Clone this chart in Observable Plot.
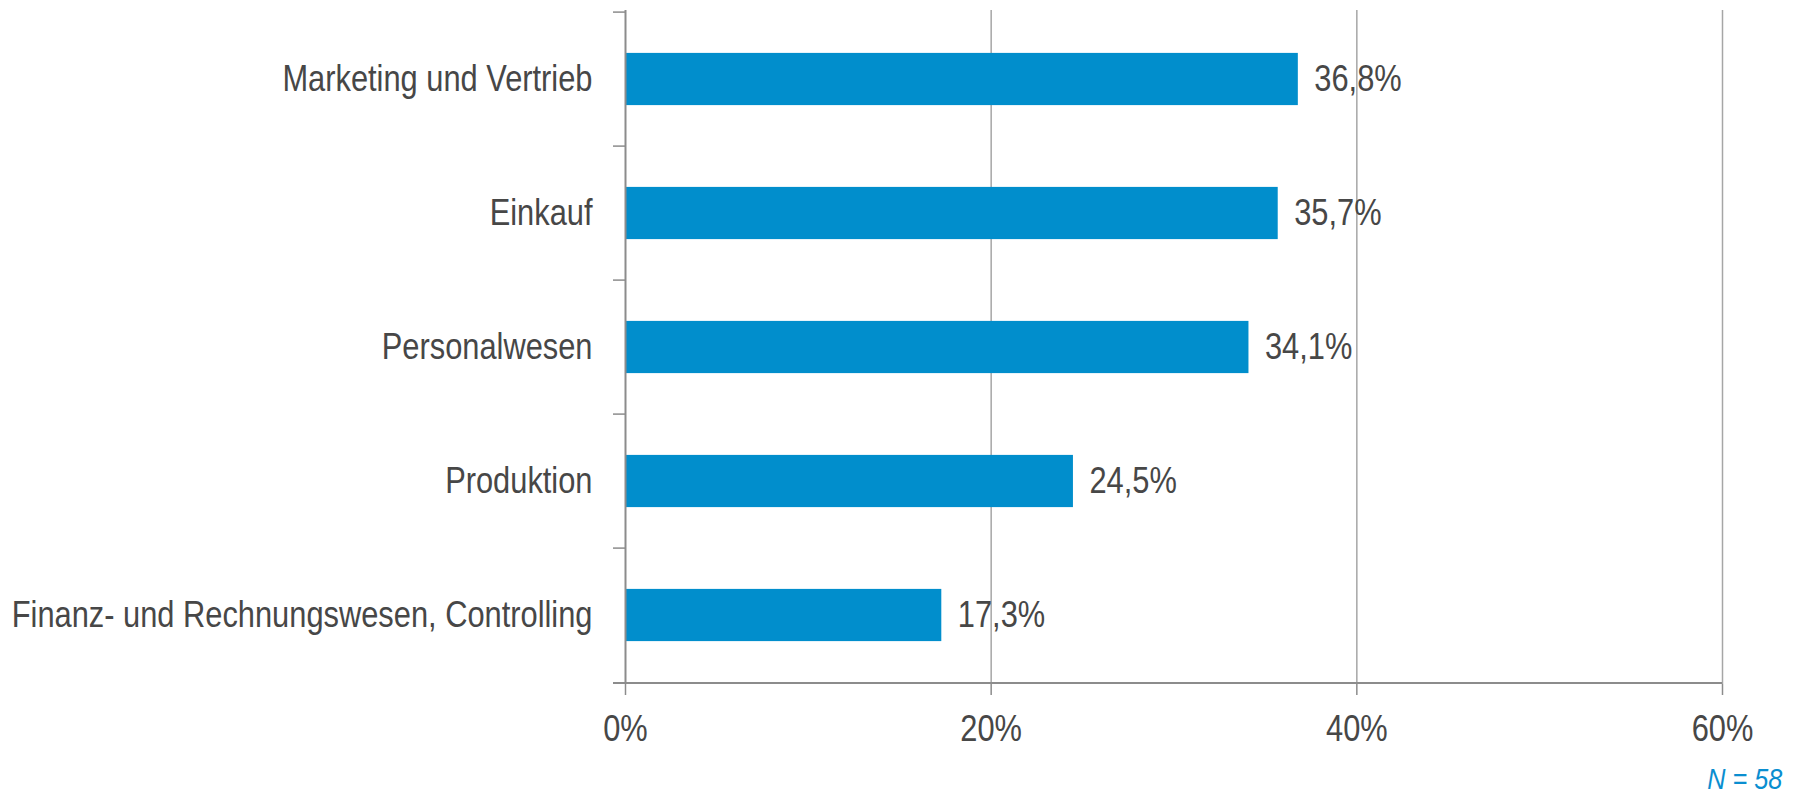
<!DOCTYPE html>
<html><head><meta charset="utf-8">
<script src="https://cdn.jsdelivr.net/npm/d3@7"></script>
<script src="https://cdn.jsdelivr.net/npm/@observablehq/plot@0.6"></script>
<style>
body{margin:0;background:#fff;}
#wrap{position:relative;width:1798px;height:795px;overflow:hidden;}
#note{position:absolute;right:16px;top:764px;font-family:'Liberation Sans Narrow','Arial Narrow','Liberation Sans',sans-serif;font-style:italic;font-size:30px;color:#0a8ed0;line-height:1;transform:scaleX(0.84);transform-origin:right center;}
</style></head><body>
<div id="wrap"><div id="chart"></div><div id="note"></div></div>
<script>
const categories = ["Marketing und Vertrieb", "Einkauf", "Personalwesen", "Produktion", "Finanz- und Rechnungswesen, Controlling"];
const values = [36.8, 35.7, 34.1, 24.5, 17.3];
const xTicks = [0, 20, 40, 60];
const note = "N = 58";

const data = categories.map((c, i) => ({category: c, value: values[i]}));
const fmt = v => v.toFixed(1).replace(".", ",") + "%";

const W = 1798, H = 760, MT = 10, MB = 76, ML = 625, MR = 76;
const step = (H - MT - MB) / categories.length;
const barH = 53;
const inset = (step - barH) / 2;
const axisColor = "#8c8c8c", gridColor = "#a6a6a6", textColor = "#474747", barColor = "#018ecc";
const font = "'Liberation Sans Narrow','Arial Narrow','Liberation Sans',sans-serif";
const narrow = 0.833;

const chart = Plot.plot({
  width: W, height: H,
  marginTop: MT, marginBottom: MB, marginLeft: ML, marginRight: MR,
  style: {fontFamily: font, fontSize: "37px", color: textColor, background: "white", overflow: "visible"},
  x: {domain: [0, 60], label: null},
  y: {domain: categories, padding: 0, label: null},
  marks: [
    Plot.gridX({ticks: xTicks.slice(1), stroke: gridColor, strokeOpacity: 1, strokeWidth: 1.5}),
    Plot.barX(data, {x: "value", y: "category", fill: barColor, insetTop: inset, insetBottom: inset}),
    Plot.ruleX([0], {stroke: axisColor, strokeWidth: 2}),
    Plot.ruleY([categories[categories.length - 1]], {dy: step / 2, insetLeft: -12, stroke: axisColor, strokeWidth: 2}),
    Plot.axisX({ticks: xTicks, tickSize: 11, tickPadding: 19, tickFormat: d => d + "%", stroke: axisColor, strokeWidth: 1.5, fill: textColor, fontSize: 37}),
    Plot.axisY({tickSize: 12, dy: -step / 2, tickFormat: () => "", stroke: axisColor, strokeWidth: 1.5}),
    Plot.axisY({tickSize: 0, tickPadding: 33, fill: textColor, fontSize: 37}),
    Plot.text(data, {x: "value", y: "category", text: d => fmt(d.value), dx: 16, textAnchor: "start", fill: textColor, fontSize: 37})
  ]
});
document.getElementById("chart").appendChild(chart);
// emulate a narrow (condensed) face: compress each text horizontally
chart.querySelectorAll("text").forEach(t => {
  if (!t.textContent) return;
  const w = t.getComputedTextLength();
  if (w > 0) {
    t.setAttribute("textLength", (w * narrow).toFixed(2));
    t.setAttribute("lengthAdjust", "spacingAndGlyphs");
  }
});
document.getElementById("note").textContent = note;
</script>
</body></html>
